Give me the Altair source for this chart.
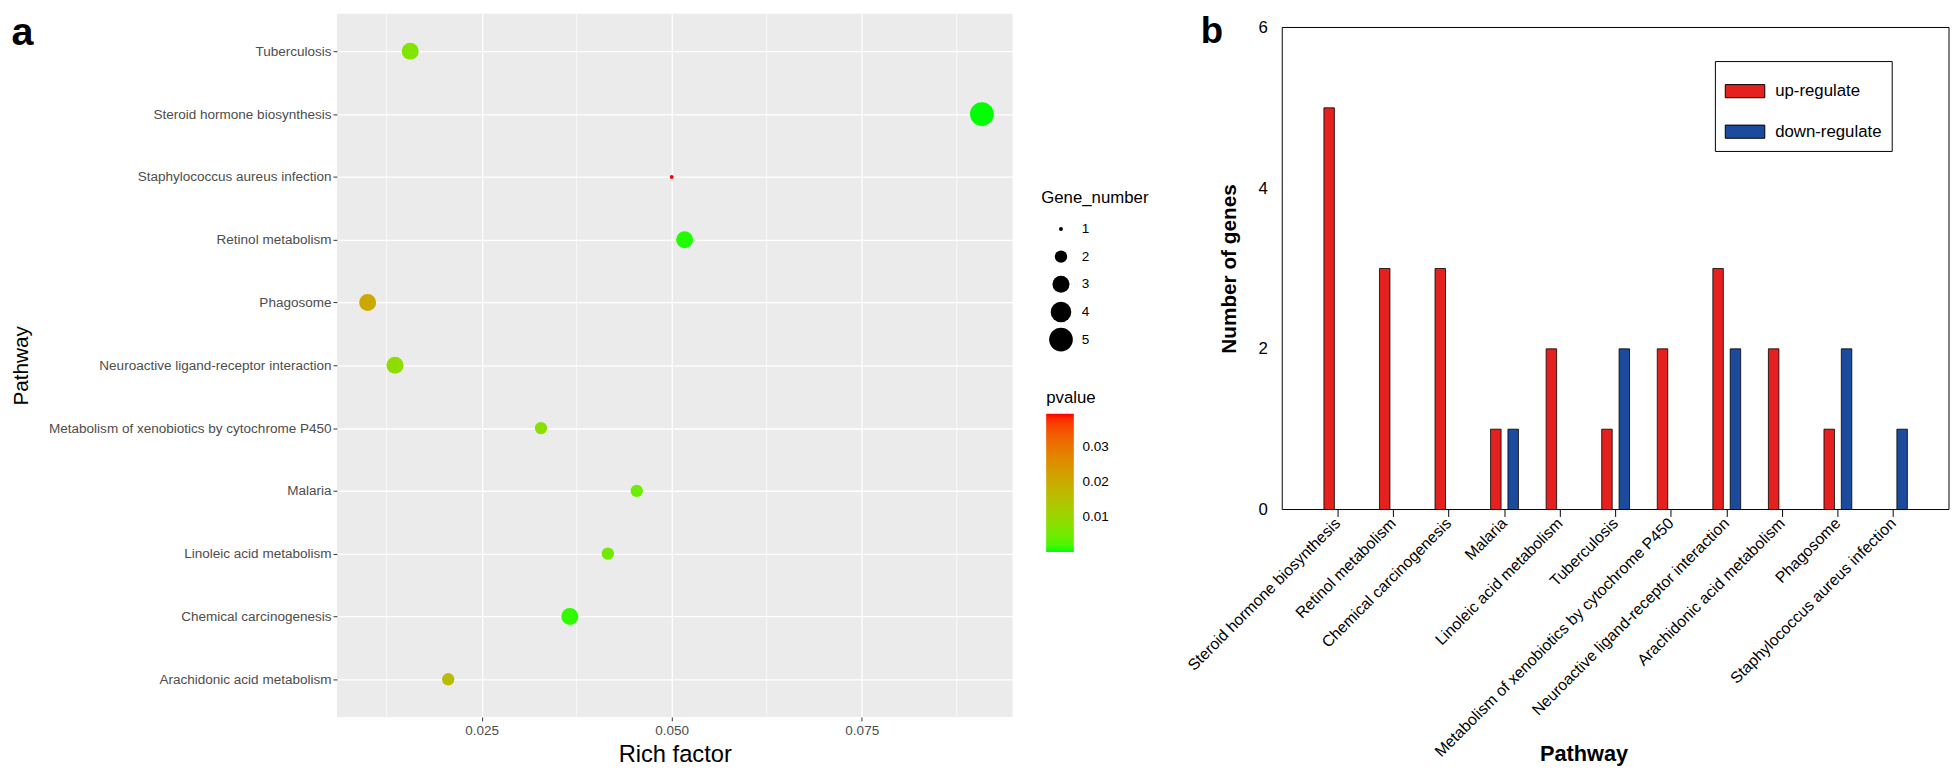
import altair as alt
import pandas as pd

# ---------------- Panel a: KEGG enrichment bubble chart ----------------
dot_pathways = [
    "Tuberculosis",
    "Steroid hormone biosynthesis",
    "Staphylococcus aureus infection",
    "Retinol metabolism",
    "Phagosome",
    "Neuroactive ligand-receptor interaction",
    "Metabolism of xenobiotics by cytochrome P450",
    "Malaria",
    "Linoleic acid metabolism",
    "Chemical carcinogenesis",
    "Arachidonic acid metabolism",
]
rich_factor = [0.0156, 0.0908, 0.0500, 0.0517, 0.0100, 0.0136, 0.0328, 0.0454, 0.0416, 0.0366, 0.0206]
gene_number = [3, 5, 1, 3, 3, 3, 2, 2, 2, 3, 2]
pvalue = [0.0067, 0.0001, 0.0395, 0.0005, 0.0205, 0.0087, 0.0078, 0.0047, 0.0050, 0.0010, 0.0160]
x_major = [0.025, 0.050, 0.075]
x_minor = [0.0125, 0.0375, 0.0625, 0.0875]
size_levels = [1, 2, 3, 4, 5]
pvalue_ticks = [0.01, 0.02, 0.03]

# ---------------- Panel b: up / down regulated genes ----------------
bar_pathways = [
    "Steroid hormone biosynthesis",
    "Retinol metabolism",
    "Chemical carcinogenesis",
    "Malaria",
    "Linoleic acid metabolism",
    "Tuberculosis",
    "Metabolism of xenobiotics by cytochrome P450",
    "Neuroactive ligand-receptor interaction",
    "Arachidonic acid metabolism",
    "Phagosome",
    "Staphylococcus aureus infection",
]
up_counts = [5, 3, 3, 1, 2, 1, 2, 3, 2, 1, 0]
down_counts = [0, 0, 0, 1, 0, 2, 0, 2, 0, 2, 1]
regulation = ["up-regulate", "down-regulate"]
bar_colors = ["#E5211F", "#1C4A9C"]
y_ticks = [0, 2, 4, 6]
y_limits = [0, 6]

FONT = "Liberation Sans"

# ---------- tables ----------
dots_df = pd.DataFrame({
    "Pathway": dot_pathways,
    "RichFactor": rich_factor,
    "Gene_number": gene_number,
    "pvalue": pvalue,
})
minor_df = pd.DataFrame({"minor": x_minor})
label_a = pd.DataFrame({"label": ["a"]})
label_b = pd.DataFrame({"label": ["b"]})
frame_df = pd.DataFrame({"low": [y_limits[0]], "high": [y_limits[1]]})

rows = []
for p, u, d in zip(bar_pathways, up_counts, down_counts):
    rows.append({"Pathway": p, "Regulation": regulation[0], "Count": u})
    rows.append({"Pathway": p, "Regulation": regulation[1], "Count": d})
bars_df = pd.DataFrame(rows)

# ggplot-like 5% expansion of the continuous x range
rmin, rmax = min(rich_factor), max(rich_factor)
pad = 0.05 * (rmax - rmin)
xscale = alt.Scale(domain=[rmin - pad, rmax + pad], nice=False, zero=False)

LW, LH = 684, 712

x_enc = alt.X(
    "RichFactor:Q",
    scale=xscale,
    axis=alt.Axis(
        values=x_major, format=".3f", title="Rich factor",
        grid=True, gridColor="white", gridWidth=1.3,
        domain=False, tickColor="#333333", tickSize=4,
        labelColor="#4D4D4D", labelFontSize=13.7, labelPadding=3,
        titleFontSize=24, titleFontWeight="normal", titleColor="black",
        titleY=38, titleBaseline="middle",
    ),
)
y_enc = alt.Y(
    "Pathway:N",
    sort=dot_pathways,
    scale=alt.Scale(type="point", padding=0.6),
    axis=alt.Axis(
        title="Pathway", grid=True, gridColor="white", gridWidth=1.3,
        domain=False, tickColor="#333333", tickSize=4,
        labelColor="#4D4D4D", labelFontSize=13.7, labelPadding=2, labelLimit=500,
        titleFontSize=21, titleFontWeight="normal", titleColor="black",
        titleAngle=270, titleX=-319, titleY=LH / 2, titleBaseline="middle",
    ),
)

minor_rules = alt.Chart(minor_df).mark_rule(color="white", strokeWidth=0.7).encode(
    x=alt.X("minor:Q", scale=xscale)
)

points = alt.Chart(dots_df).mark_circle(opacity=1).encode(
    x=x_enc,
    y=y_enc,
    size=alt.Size(
        "Gene_number:Q",
        scale=alt.Scale(domain=[1, 5], range=[16, 576], zero=False),
        legend=alt.Legend(
            title="Gene_number", orient="none", legendX=713, legendY=179,
            values=size_levels, symbolFillColor="black", symbolStrokeWidth=0,
            symbolType="circle", titleFontSize=17, titleFontWeight="normal",
            titlePadding=8, rowPadding=0, clipHeight=28, symbolOffset=8, labelOffset=9,
            labelFontSize=13.7, labelColor="black", padding=0,
        ),
    ),
    color=alt.Color(
        "pvalue:Q",
        scale=alt.Scale(domain=[min(pvalue), max(pvalue)], range=["#00FF00", "#FF0000"],
                        interpolate="lab"),
        legend=alt.Legend(
            title="pvalue", orient="none", legendX=718, legendY=381,
            direction="vertical", values=pvalue_ticks, format=".2f",
            gradientLength=140, gradientThickness=28, gradientStrokeWidth=0,
            titleFontSize=17, titleFontWeight="normal", titlePadding=7,
            labelFontSize=13.7, labelOffset=8.7, labelColor="black", padding=0,
        ),
    ),
    tooltip=["Pathway", "RichFactor", "Gene_number", "pvalue"],
)

text_a = alt.Chart(label_a).mark_text(
    fontSize=40, fontWeight="bold", align="left", baseline="alphabetic", color="black"
).encode(x=alt.value(-329.5), y=alt.value(32), text="label:N")

left = alt.layer(minor_rules, points, text_a).properties(
    width=LW, height=LH,
    view=alt.ViewBackground(fill="#EBEBEB", stroke=None),
)

# ---------- right panel ----------
RW, RH, RTOP = 675, 502, 14
yscale_r = alt.Scale(domain=y_limits, range=[RH, RTOP], nice=False)
y_axis_r = alt.Axis(
    values=y_ticks, title="Number of genes", ticks=False, grid=False, domain=False,
    labelFontSize=17, labelPadding=15, labelColor="black",
    titleFontSize=21, titleFontWeight="bold", titleColor="black",
    titleAngle=270, titleX=-53, titleY=(RH + RTOP) / 2, titleBaseline="middle",
)

bars = alt.Chart(bars_df).transform_filter("datum.Count > 0").mark_bar(
    stroke="black", strokeWidth=0.8
).encode(
    x=alt.X(
        "Pathway:N",
        sort=bar_pathways,
        scale=alt.Scale(domain=bar_pathways, paddingInner=0, paddingOuter=0.5),
        axis=alt.Axis(
            title="Pathway", labelAngle=315, labelAlign="right", labelBaseline="middle",
            labelFontSize=16, labelColor="black", labelLimit=600, labelOverlap=False,
            labelPadding=4, tickColor="black", tickSize=7, tickWidth=1,
            domain=False, bandPosition=0.5,
            titleFontSize=22, titleFontWeight="bold", titleColor="black",
            titleX=305, titleY=247, titleBaseline="middle",
        ),
    ),
    xOffset=alt.XOffset(
        "Regulation:N",
        scale=alt.Scale(domain=regulation, paddingInner=0.3955, paddingOuter=0.799),
    ),
    y=alt.Y("Count:Q", scale=yscale_r, axis=y_axis_r),
    color=alt.Color(
        "Regulation:N",
        scale=alt.Scale(domain=regulation, range=bar_colors),
        legend=alt.Legend(
            title=None, orient="none", legendX=438, legendY=48,
            symbolType="M-1,-0.333H1V0.333H-1Z", symbolSize=1600,
            symbolStrokeColor="black", symbolStrokeWidth=1, symbolOpacity=1,
            labelFontSize=17, labelOffset=10, labelColor="black",
            padding=10, rowPadding=11, strokeColor="black", fillColor="white",
        ),
    ),
)

# box frame of the plotting region: spans the y range 0..6 across the full panel width
frame = alt.Chart(frame_df).mark_rect(
    fillOpacity=0, stroke="black", strokeWidth=1
).encode(
    y=alt.Y("high:Q", scale=yscale_r, axis=y_axis_r),
    y2="low:Q",
    x=alt.value(0),
    x2=alt.value(RW),
)

text_b = alt.Chart(label_b).mark_text(
    fontSize=37, fontWeight="bold", align="left", baseline="alphabetic", color="black"
).encode(x=alt.value(-82.5), y=alt.value(29.6), text="label:N")

right = alt.layer(bars, frame, text_b).properties(
    width=RW, height=RH,
    view=alt.ViewBackground(fill="white", stroke=None),
)

chart = alt.hconcat(left, right, spacing=36).resolve_scale(
    color="independent", x="independent", y="independent", size="independent"
).resolve_legend(color="independent", size="independent").properties(
    padding={"left": 3, "top": 0, "right": 0, "bottom": 0}
).configure(font=FONT, background="white")

chart.save("out.html", embed_options={"renderer": "svg", "actions": False})
